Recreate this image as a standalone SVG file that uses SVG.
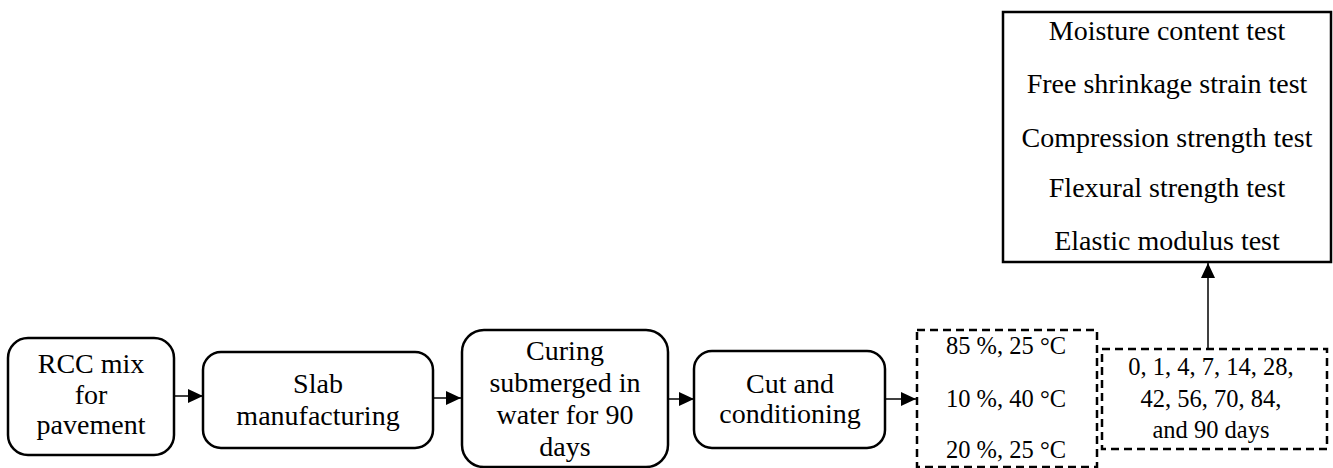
<svg xmlns="http://www.w3.org/2000/svg" width="1333" height="468" viewBox="0 0 1333 468">
<style>
.t text{font-size:28px;fill:#000;text-anchor:middle}
.t text.num{font-size:24.5px}
.box{fill:#fff;stroke:#000;stroke-width:2.5}
.dash{fill:#fff;stroke:#000;stroke-width:2.5;stroke-dasharray:8 5}
.conn{stroke:#000;stroke-width:1.5;fill:none}
</style>
<defs>
<marker id="ah" markerUnits="userSpaceOnUse" markerWidth="15" markerHeight="14" refX="15" refY="7" orient="auto">
<path d="M0,0 L15,7 L0,14 Z" fill="#000"/>
</marker>
</defs>
<g id="connectors">
<line class="conn" x1="174" y1="396" x2="203" y2="396" marker-end="url(#ah)"/>
<line class="conn" x1="433" y1="398" x2="461" y2="398" marker-end="url(#ah)"/>
<line class="conn" x1="668" y1="399" x2="694" y2="399" marker-end="url(#ah)"/>
<line class="conn" x1="885" y1="399" x2="916" y2="399" marker-end="url(#ah)"/>
<line class="conn" x1="1208" y1="349" x2="1208" y2="263" marker-end="url(#ah)"/>
</g>
<g class="t" font-family="'Liberation Serif', 'Times New Roman', serif">
<g id="n1">
<rect class="box" x="8" y="338" width="166" height="117" rx="20"/>
<text x="91" y="373">RCC mix</text>
<text x="91" y="404">for</text>
<text x="91" y="434">pavement</text>
</g>
<g id="n2">
<rect class="box" x="203" y="352" width="230" height="96" rx="18"/>
<text x="318" y="393">Slab</text>
<text x="318" y="425">manufacturing</text>
</g>
<g id="n3">
<rect class="box" x="462" y="330" width="206" height="137" rx="22"/>
<text x="565" y="360">Curing</text>
<text x="565" y="392">submerged in</text>
<text x="565" y="424">water for 90</text>
<text x="565" y="456">days</text>
</g>
<g id="n4">
<rect class="box" x="694" y="351" width="191" height="97" rx="18"/>
<text x="790" y="393">Cut and</text>
<text x="790" y="423">conditioning</text>
</g>
<g id="n5">
<rect class="dash" x="917" y="330" width="180" height="137"/>
<text class="num" x="1006" y="354">85 %, 25 °C</text>
<text class="num" x="1006" y="407">10 %, 40 °C</text>
<text class="num" x="1006" y="458">20 %, 25 °C</text>
</g>
<g id="n6">
<rect class="dash" x="1102" y="349" width="225" height="100"/>
<text class="num" x="1211" y="375">0, 1, 4, 7, 14, 28,</text>
<text class="num" x="1211" y="407">42, 56, 70, 84,</text>
<text class="num" x="1211" y="438">and 90 days</text>
</g>
<g id="n7">
<rect class="box" x="1003" y="12" width="328" height="250"/>
<text x="1167" y="40">Moisture content test</text>
<text x="1167" y="93">Free shrinkage strain test</text>
<text x="1167" y="147">Compression strength test</text>
<text x="1167" y="197">Flexural strength test</text>
<text x="1167" y="250">Elastic modulus test</text>
</g>
</g>
</svg>
